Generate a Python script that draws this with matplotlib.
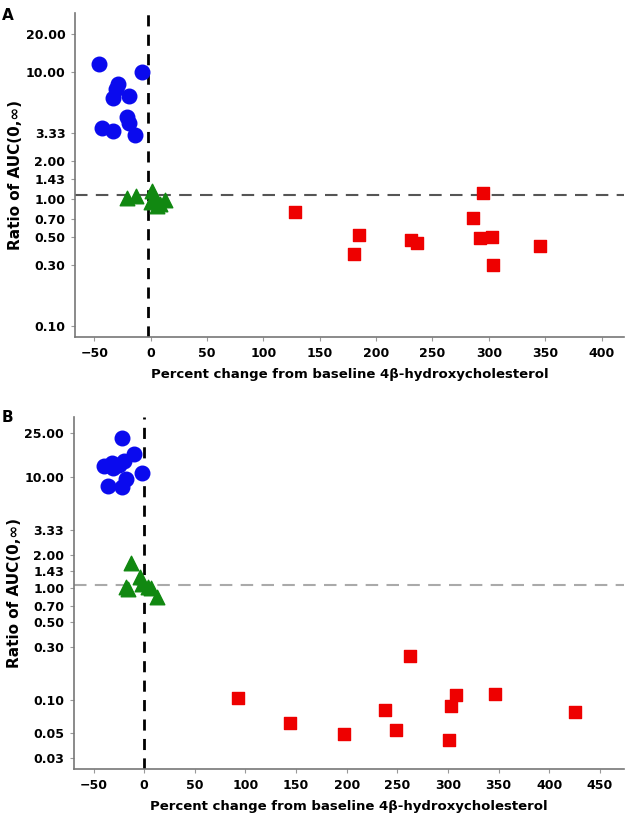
import matplotlib.pyplot as plt
from matplotlib.ticker import FixedLocator, NullLocator

# Panel A data
a_circle_x = [-45.6, -7.3, -29, -31, -33.4, -19.5, -21, -19, -43.2, -33, -14.2]
a_circle_y = [11.6, 9.95, 8.0, 7.3, 6.2, 6.4, 4.45, 3.95, 3.6, 3.43, 3.19]
a_tri_x = [-21.4, -12.7, 1.5, 3, 0, 8.2, 12.7, 5.5]
a_tri_y = [1.02, 1.06, 1.16, 1.04, 0.94, 0.91, 0.98, 0.88]
a_sq_x = [127.7, 185.2, 180.8, 231, 236.5, 286, 295, 292, 302.6, 303.8, 345]
a_sq_y = [0.79, 0.52, 0.37, 0.475, 0.45, 0.71, 1.11, 0.49, 0.50, 0.30, 0.43]

# Panel B data
b_circle_x = [-21.7, -9.9, -19.8, -31.6, -39.5, -30.6, -18.4, -2.6, -36, -22.3, -25]
b_circle_y = [22.7, 16.2, 14.0, 13.4, 12.5, 12.1, 9.7, 10.9, 8.35, 8.2, 12.8]
b_tri_x = [-13.1, -18, -4, -2.6, 4, 12.8, -16.5, 7]
b_tri_y = [1.68, 1.03, 1.27, 1.09, 1.03, 0.84, 0.98, 1.0]
b_sq_x = [92.3, 144.3, 197.6, 238.1, 248.7, 262.5, 300.8, 303.4, 308.3, 346.5, 425.3]
b_sq_y = [0.104, 0.0615, 0.049, 0.080, 0.053, 0.247, 0.0436, 0.087, 0.109, 0.113, 0.078]

a_yticks = [0.10, 0.30, 0.50, 0.70, 1.00, 1.43, 2.00, 3.33, 10.00, 20.00]
b_yticks = [0.03, 0.05, 0.10, 0.30, 0.50, 0.70, 1.00, 1.43, 2.00, 3.33, 10.00, 25.00]
a_xticks = [-50, 0, 50, 100, 150, 200, 250, 300, 350, 400]
b_xticks = [-50, 0, 50, 100, 150, 200, 250, 300, 350, 400, 450]

fig = plt.figure(figsize=(6.26, 8.14), dpi=100)
axA = fig.add_axes([0.12, 0.586, 0.877, 0.398])
axB = fig.add_axes([0.118, 0.055, 0.879, 0.433])

xlabel = "Percent change from baseline 4\u03b2-hydroxycholesterol"


def style(ax, xt, yt, xlim, ylim, vline_x, hline_color):
    ax.axvline(vline_x, color="black", ls=(0, (4, 3)), lw=2, zorder=1)
    ax.axhline(1.07, color=hline_color, ls=(0, (6, 4)), lw=1.5, zorder=1)
    ax.set_yscale("log")
    ax.set_xlim(*xlim)
    ax.set_ylim(*ylim)
    ax.yaxis.set_major_locator(FixedLocator(yt))
    ax.yaxis.set_minor_locator(NullLocator())
    ax.set_yticklabels(["%.2f" % v for v in yt])
    ax.set_xticks(xt)
    ax.set_xticklabels(["\u2212%d" % -v if v < 0 else "%d" % v for v in xt])
    for s in ["top", "right"]:
        ax.spines[s].set_visible(False)
    for s in ["left", "bottom"]:
        ax.spines[s].set_color("#777777")
        ax.spines[s].set_linewidth(1.2)
    ax.tick_params(length=3, color="#999999", labelsize=9, pad=4)
    for lab in ax.get_xticklabels() + ax.get_yticklabels():
        lab.set_fontweight("bold")
    ax.set_xlabel(xlabel, fontsize=9.5, fontweight="bold", labelpad=6)
    ax.set_ylabel("Ratio of AUC(0,\u221e)", fontsize=11, fontweight="bold", labelpad=2)


style(axA, a_xticks, a_yticks, (-67, 420), (0.082, 29), -2, "#555555")
axA.scatter(a_circle_x, a_circle_y, s=110, color="#0a0aee", marker="o", zorder=3)
axA.scatter(a_tri_x, a_tri_y, s=110, color="#118811", marker="^", zorder=3)
axA.scatter(a_sq_x, a_sq_y, s=85, color="#ee0000", marker="s", zorder=3)

style(axB, b_xticks, b_yticks, (-69.5, 474), (0.0236, 35), 0, "#aaaaaa")
axB.scatter(b_circle_x, b_circle_y, s=110, color="#0a0aee", marker="o", zorder=3)
axB.scatter(b_tri_x, b_tri_y, s=110, color="#118811", marker="^", zorder=3)
axB.scatter(b_sq_x, b_sq_y, s=85, color="#ee0000", marker="s", zorder=3)

fig.text(0.003, 0.99, "A", fontsize=11, fontweight="bold", va="top")
fig.text(0.003, 0.496, "B", fontsize=11, fontweight="bold", va="top")

plt.savefig("out.png", dpi=100)
